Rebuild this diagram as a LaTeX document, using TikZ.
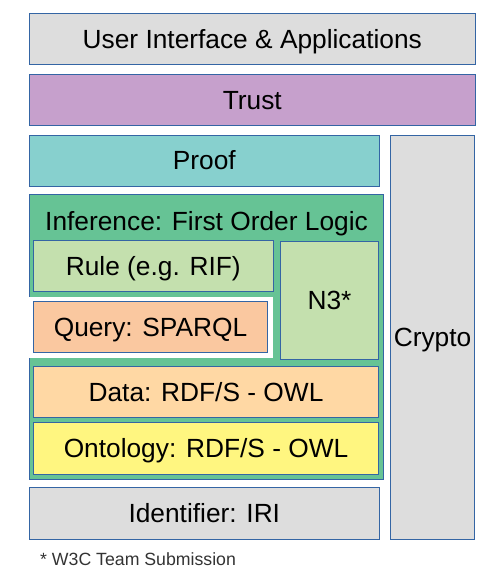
\documentclass[tikz,border=0pt]{standalone}
\usepackage{fontspec}
\setmainfont{Liberation Sans}
\usetikzlibrary{
  positioning
}
\usepackage{xcolor}
\definecolor{edgeblue}{HTML}{3465A4}
\definecolor{layergray}{HTML}{DDDDDD}
\definecolor{trustpurple}{HTML}{C6A0CC}
\definecolor{proofteal}{HTML}{87D0CE}
\definecolor{infgreen}{HTML}{66C395}
\definecolor{rulegreen}{HTML}{C4E0AE}
\definecolor{queryorange}{HTML}{FAC8A0}
\definecolor{dataorange}{HTML}{FFD8A4}
\definecolor{ontoyellow}{HTML}{FFF680}
\tikzstyle{layertext} = [font=\fontsize{26.3}{31}\selectfont, text height=18.8pt, text depth=0pt]

\begin{document}
\begin{tikzpicture}[x=1pt, y=-1pt,
layernode/.style={rectangle, draw=edgeblue, line width=0.9pt, inner sep=0pt, outer sep=0pt, layertext},
notenode/.style={inner sep=0pt, anchor=west, text=black!80, font=\fontsize{17.7}{20}\selectfont, text height=12.6pt, text depth=0pt},
]
\useasboundingbox (0,0) rectangle (487,576);
%Nodes
\node[layernode, fill=layergray, minimum width=446pt, minimum height=50.7pt]  (ui)    at (252.3,38.7)  {User Interface \& Applications};
\node[layernode, fill=trustpurple, minimum width=446pt, minimum height=51.3pt] (trust) at (252.3,99.7)  {Trust};
\node[layernode, fill=proofteal, minimum width=350pt, minimum height=51pt]    (proof) at (204.3,160.5) {Proof};
\node[layernode, fill=infgreen, minimum width=354.4pt, minimum height=284.7pt] (inf)  at (206.5,336.7) {};
\node[layertext, inner sep=0pt]                                                (inflabel) at (206.5,221) {Inference: First Order Logic};
\fill[white] (27.5,296.7) rectangle (273.3,358.3);
\node[layernode, fill=rulegreen, minimum width=240pt, minimum height=50.7pt]   (rule)  at (153.3,265.7) {Rule (e.g. RIF)};
\node[layernode, fill=queryorange, minimum width=234.4pt, minimum height=51pt] (query) at (150.5,326.8) {Query: SPARQL};
\node[layernode, fill=rulegreen, minimum width=97.6pt, minimum height=117.7pt] (n3)    at (329.5,300.2) {N3*};
\node[layernode, fill=dataorange, minimum width=345.4pt, minimum height=51.3pt] (data) at (206,391.7)   {Data: RDF/S - OWL};
\node[layernode, fill=ontoyellow, minimum width=345.4pt, minimum height=52pt]  (onto)  at (206,448.3)   {Ontology: RDF/S - OWL};
\node[layernode, fill=layergray, minimum width=350pt, minimum height=51.7pt]   (iri)   at (204.3,513.2) {Identifier: IRI};
\node[layernode, fill=layergray, minimum width=83.6pt, minimum height=404pt]   (crypto) at (432.5,337)  {Crypto};
\node[notenode] (note) at (40,559) {* W3C Team Submission};
\end{tikzpicture}
\end{document}
